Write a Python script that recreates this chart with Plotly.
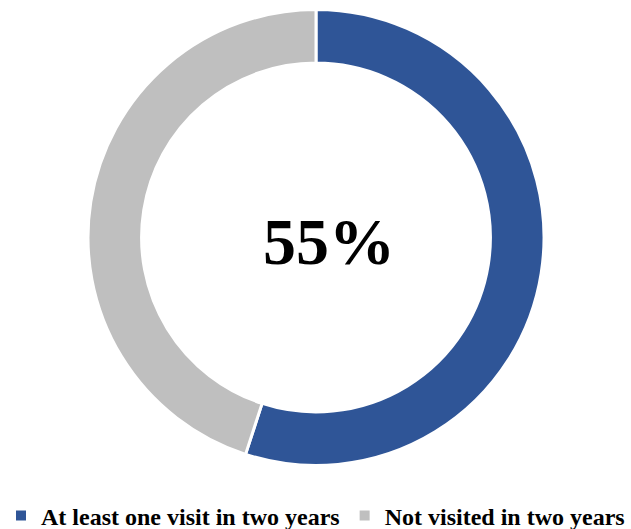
import plotly.graph_objects as go

labels = ["At least one visit in two years", "Not visited in two years"]
values = [55, 45]
colors = ["#2F5597", "#BFBFBF"]
center_label = "55%"

W, H = 631, 529
cx, cy, r = 316, 237.5, 228

fig = go.Figure(
    go.Pie(
        labels=labels,
        values=values,
        hole=0.765,
        sort=False,
        direction="clockwise",
        rotation=0,
        textinfo="none",
        hoverinfo="label+percent",
        marker=dict(colors=colors, line=dict(color="white", width=3)),
        domain=dict(
            x=[(cx - r) / W, (cx + r) / W],
            y=[1 - (cy + r) / H, 1 - (cy - r) / H],
        ),
    )
)

fig.add_annotation(
    x=329 / W, y=1 - 242 / H, xref="paper", yref="paper",
    text=f"<b>{center_label}</b>", showarrow=False,
    font=dict(family="Liberation Serif", size=66, color="black"),
)

fig.update_layout(
    width=W, height=H,
    margin=dict(l=0, r=0, t=0, b=0, autoexpand=False),
    paper_bgcolor="white",
    plot_bgcolor="white",
    showlegend=True,
    legend=dict(
        orientation="h",
        x=0.5, xanchor="center",
        y=1 - 516 / H, yanchor="middle",
        font=dict(family="Liberation Serif", size=24, color="black", weight="bold"),
        itemsizing="constant",
    ),
)

fig.write_html("out.html")
